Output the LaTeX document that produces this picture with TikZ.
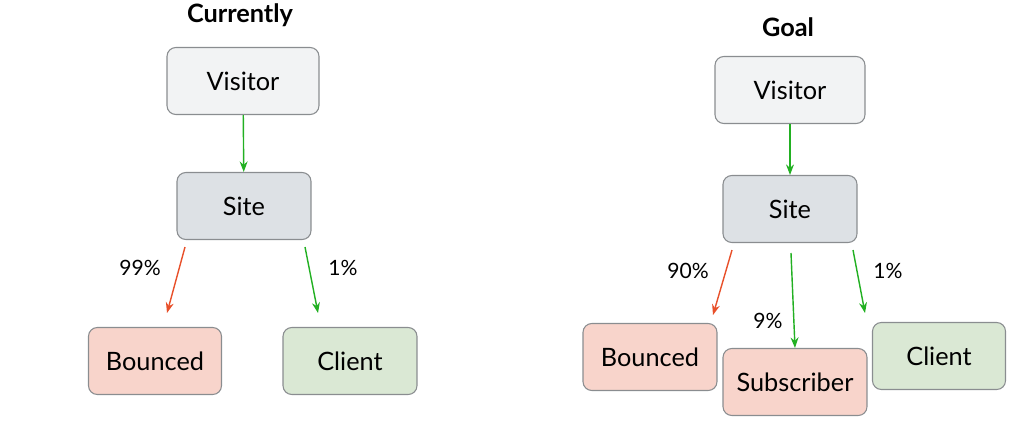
\documentclass[tikz,border=0pt]{standalone}
\usepackage{fontspec}
\setmainfont{Lato}
\usetikzlibrary{arrows.meta}
\definecolor{boxline}{HTML}{8A8D90}
\definecolor{visfill}{HTML}{F2F3F4}
\definecolor{sitefill}{HTML}{DDE1E5}
\definecolor{redfill}{HTML}{F8D4CB}
\definecolor{greenfill}{HTML}{DAE8D4}
\definecolor{arrgreen}{HTML}{22B022}
\definecolor{arrred}{HTML}{E8502A}
\tikzset{
  stage/.style={draw=boxline,rounded corners=5pt,minimum height=1.34cm,font=\Large,line width=0.6pt},
  go/.style={-{Stealth[length=6pt]},arrgreen,line width=0.8pt},
  lost/.style={-{Stealth[length=6pt]},arrred,line width=0.8pt}
}
\begin{document}
\begin{tikzpicture}[x=0.02cm,y=-0.02cm]
        \useasboundingbox (0,0) rectangle (1024,426);
        % currently
        \node[font=\Large\bfseries] (tcur) at (240,15) {Currently};
        \node[stage,fill=visfill,minimum width=3.04cm] (vis) at (243,81) {Visitor};
        \node[stage,fill=sitefill,minimum width=2.68cm] (site) at (244,206) {Site};
        \node[stage,fill=redfill,minimum width=2.66cm] (bnc) at (155,361) {Bounced};
        \node[stage,fill=greenfill,minimum width=2.68cm] (cli) at (350,361) {Client};
        \coordinate (s1) at (185,247); \coordinate (e1) at (167,313);
        \coordinate (s2) at (305,247); \coordinate (e2) at (318,313);
        \draw[go] (vis) -- (site);
        \draw[lost] (s1) -- (e1);
        \draw[go] (s2) -- (e2);
        \node[font=\large] (p99) at (140,268) {99\%};
        \node[font=\large] (p1) at (343,268) {1\%};

        % goal
        \node[font=\Large\bfseries] (tgoal) at (788,27) {Goal};
        \node[stage,fill=visfill,minimum width=3.0cm] (vis2) at (790,90) {Visitor};
        \node[stage,fill=sitefill,minimum width=2.68cm] (site2) at (790,209) {Site};
        \node[stage,fill=redfill,minimum width=2.68cm] (bnc2) at (650,357) {Bounced};
        \node[stage,fill=redfill,minimum width=2.88cm] (sub2) at (795,382) {Subscriber};
        \node[stage,fill=greenfill,minimum width=2.66cm] (cli2) at (939,356) {Client};
        \coordinate (s3) at (732,250); \coordinate (e3) at (713,315);
        \coordinate (s4) at (791,253);
        \coordinate (s5) at (853,250); \coordinate (e5) at (865,313);
        \draw[go] (vis2) -- (site2);
        \draw[lost] (s3) -- (e3);
        \draw[go] (s4) -- (sub2.north);
        \draw[go] (s5) -- (e5);
        \node[font=\large] (p90) at (688,271) {90\%};
        \node[font=\large] (p9) at (768,321) {9\%};
        \node[font=\large] (p1b) at (888,271) {1\%};
\end{tikzpicture}
\end{document}
